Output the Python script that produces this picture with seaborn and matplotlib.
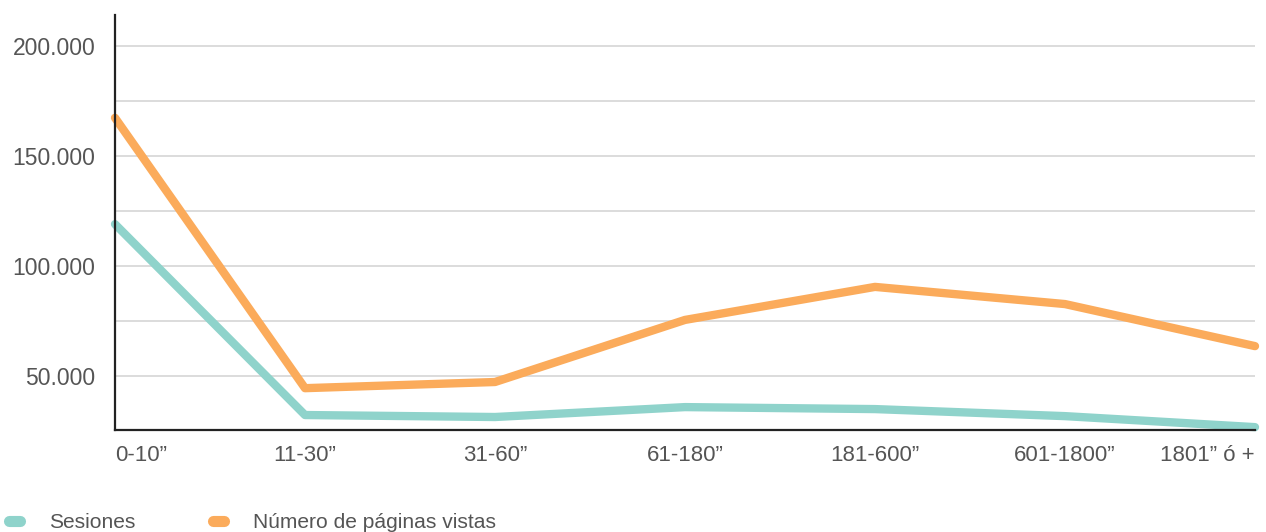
import pandas as pd
import seaborn as sns
import matplotlib.pyplot as plt
from matplotlib.lines import Line2D
from matplotlib.ticker import FuncFormatter

# Data
categories = ['0-10”', '11-30”', '31-60”', '61-180”', '181-600”', '601-1800”', '1801” ó +']
sesiones = [119000, 32300, 31400, 35900, 35000, 31800, 26800]
paginas_vistas = [167300, 44500, 47300, 75500, 90500, 82700, 63600]

series_names = ['Sesiones', 'Número de páginas vistas']
colors = ['#8fd3cb', '#fbab5b']

df = pd.DataFrame({
    'pos': list(range(len(categories))) * 2,
    'valor': sesiones + paginas_vistas,
    'serie': [series_names[0]] * len(categories) + [series_names[1]] * len(categories),
})

sns.set_theme(style='white')
plt.rcParams['font.family'] = ['Liberation Sans', 'DejaVu Sans']

fig = plt.figure(figsize=(12.66, 5.32), dpi=100)
ax = fig.add_axes([115 / 1266, 1 - 430 / 532, (1255 - 115) / 1266, (430 - 15) / 532])

sns.lineplot(data=df, x='pos', y='valor', hue='serie', palette=colors,
             linewidth=6, legend=False, ax=ax)
for ln in ax.get_lines():
    ln.set_solid_capstyle('round')
    ln.set_solid_joinstyle('round')
    ln.set_clip_on(False)

ax.set_xlim(0, len(categories) - 1)
ax.set_ylim(25500, 214000)

# Grid every 25.000, labels every 50.000
ax.set_yticks(range(50000, 214000, 50000))
ax.set_yticks(range(75000, 214000, 50000), minor=True)
ax.yaxis.set_major_formatter(FuncFormatter(lambda v, p: f'{int(v):,}'.replace(',', '.')))
ax.grid(axis='y', which='both', color='#d9d9d9', linewidth=1.3)
ax.grid(axis='x', visible=False)
ax.set_axisbelow(True)

ax.set_xticks(range(len(categories)))
ax.set_xticklabels(categories)
xl = ax.get_xticklabels()
xl[0].set_ha('left')
xl[-1].set_ha('right')

ax.tick_params(axis='y', which='both', length=0, pad=14, labelsize=16.5, labelcolor='#555555')
ax.tick_params(axis='x', length=0, pad=11, labelsize=16, labelcolor='#555555')

for side in ['top', 'right']:
    ax.spines[side].set_visible(False)
for side in ['left', 'bottom']:
    ax.spines[side].set_color('#222222')
    ax.spines[side].set_linewidth(1.6)
    ax.spines[side].set_zorder(3)

ax.set_xlabel('')
ax.set_ylabel('')

handles = [Line2D([0], [0], color=c, linewidth=8, solid_capstyle='round') for c in colors]
fig.legend(handles, series_names, loc='lower left', bbox_to_anchor=(8.5 / 1266, 0),
           ncol=2, frameon=False, borderpad=0, borderaxespad=0,
           handlelength=0.53, handletextpad=1.4,
           columnspacing=3.7, fontsize=15.1, labelcolor='#555555')

fig.savefig('out.png', dpi=100)
